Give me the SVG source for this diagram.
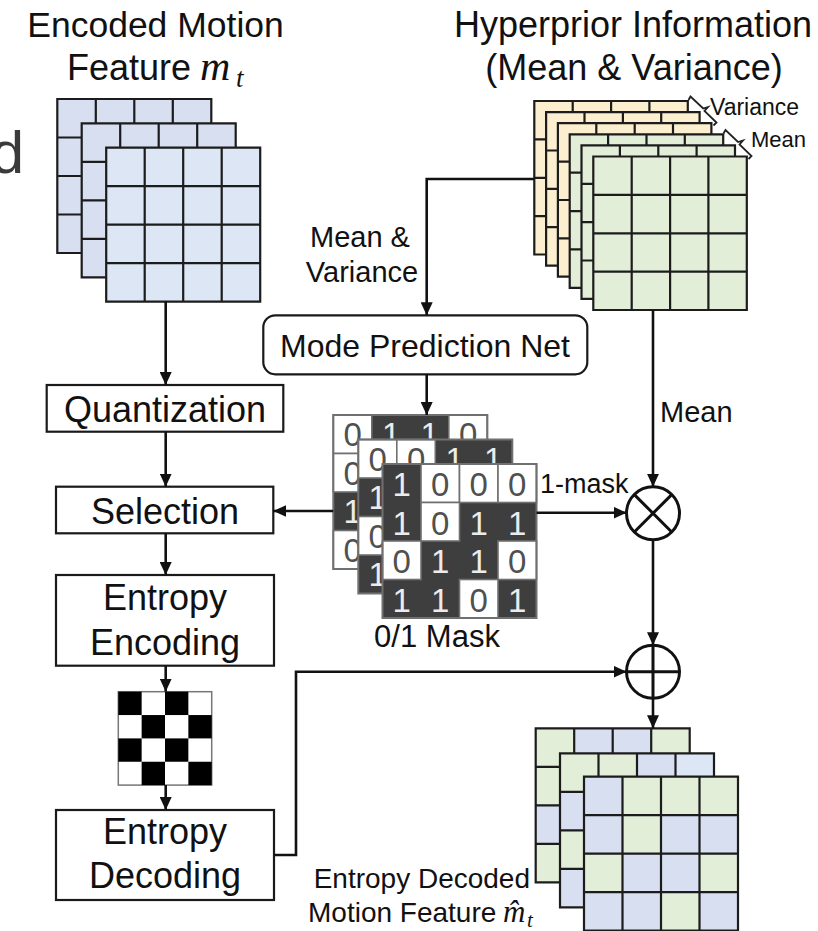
<svg xmlns="http://www.w3.org/2000/svg" width="818" height="931" viewBox="0 0 818 931">
<defs>
<marker id="ah" markerUnits="userSpaceOnUse" markerWidth="13" markerHeight="12" viewBox="0 0 13 12" refX="13" refY="6" orient="auto"><path d="M0,0 L13,6 L0,12 z" fill="#111"/></marker>
<path id="gl" d="M0,0H154V154H0Z M38.5,0V154 M77,0V154 M115.5,0V154 M0,38.5H154 M0,77H154 M0,115.5H154"/>
<path id="glh" d="M0,0H153.5V153.5H0Z M38.4,0V153.5 M76.8,0V153.5 M115.1,0V153.5 M0,38.4H153.5 M0,76.8H153.5 M0,115.1H153.5"/>
</defs>
<style>
.t{font-family:"Liberation Sans",Arial,sans-serif;fill:#111}
.c{text-anchor:middle}
.m{font-family:"Liberation Serif","DejaVu Serif",serif;font-style:italic;fill:#111}
.box{fill:#fff;stroke:#1a1a1a;stroke-width:2.2}
.gl{fill:none;stroke:#1c1c1c;stroke-width:2.2}
.bl{fill:#d7dff1}
.bf{fill:#dce6f4}
.ye{fill:#fcefcf}
.gr{fill:#e2eed8}
.conn path{fill:none;stroke:#111;stroke-width:2.6}
.mk{fill:#3e3e3e}
.mw{fill:#fff;stroke:#707070;stroke-width:1.6}
.mo{fill:none;stroke:#707070;stroke-width:2}
.d0{font-family:"Liberation Sans",Arial,sans-serif;font-size:33px;fill:#505050;text-anchor:middle}
.d1{font-family:"Liberation Sans",Arial,sans-serif;font-size:33px;fill:#ececec;text-anchor:middle}
.op{fill:#fff;stroke:#111;stroke-width:3}
.br{fill:none;stroke:#222;stroke-width:1.8}
</style>
<rect width="818" height="931" fill="#fff"/>

<text class="t" x="24" y="173" font-size="60" text-anchor="end" style="fill:#3a3a3a">d</text>

<!-- Encoded motion feature -->
<g id="motion-feature">
<text class="t c" x="155.5" y="37" font-size="35.5">Encoded Motion</text>
<text class="t" x="67" y="80" font-size="36">Feature</text>
<text class="m" x="200" y="80" font-size="42">m</text>
<text class="m" x="236" y="87" font-size="27">t</text>
<rect class="bl" x="57.3" y="99" width="154" height="154"/><use href="#gl" class="gl" x="57.3" y="99"/>
<rect class="bl" x="81.7" y="123.3" width="154" height="154"/><use href="#gl" class="gl" x="81.7" y="123.3"/>
<rect class="bf" x="106.2" y="147.7" width="154" height="154"/><use href="#gl" class="gl" x="106.2" y="147.7"/>
</g>

<!-- Hyperprior -->
<g id="hyperprior">
<text class="t c" x="633" y="37" font-size="36">Hyperprior Information</text>
<text class="t c" x="634" y="80" font-size="36">(Mean &amp; Variance)</text>
<rect class="ye" x="534.3" y="101" width="153.5" height="153.5"/><use href="#glh" class="gl" x="534.3" y="101"/>
<rect class="ye" x="546.1" y="112.1" width="153.5" height="153.5"/><use href="#glh" class="gl" x="546.1" y="112.1"/>
<rect class="ye" x="557.9" y="123.2" width="153.5" height="153.5"/><use href="#glh" class="gl" x="557.9" y="123.2"/>
<rect class="gr" x="569.7" y="134.3" width="153.5" height="153.5"/><use href="#glh" class="gl" x="569.7" y="134.3"/>
<rect class="gr" x="581.5" y="145.4" width="153.5" height="153.5"/><use href="#glh" class="gl" x="581.5" y="145.4"/>
<rect class="gr" x="593.3" y="156.5" width="153.5" height="153.5"/><use href="#glh" class="gl" x="593.3" y="156.5"/>
<path class="br" d="M688.5,100 L690.5,96.5 L703.2,108.5 L708,107 L704.5,111 L716.5,122.5 L713.5,125.5"/>
<text class="t" x="710" y="115" font-size="23">Variance</text>
<path class="br" d="M723.5,133.5 L725.5,130 L738,142 L743,140.5 L739.5,144.5 L751.5,156 L748.5,159"/>
<text class="t" x="751" y="147" font-size="22">Mean</text>
</g>

<g id="mode-net">
<rect class="box" x="263.3" y="315.3" width="324" height="59" rx="12"/>
<text class="t c" x="425" y="357" font-size="32">Mode Prediction Net</text>
</g>

<g id="quantization">
<rect class="box" x="46.7" y="385" width="236.6" height="46.7"/>
<text class="t c" x="165" y="422" font-size="36">Quantization</text>
</g>

<g id="selection">
<rect class="box" x="56" y="486.7" width="217.3" height="46.6"/>
<text class="t c" x="165" y="524" font-size="36">Selection</text>
</g>

<g id="entropy-encoding">
<rect class="box" x="56" y="575" width="218" height="90.7"/>
<text class="t c" x="165" y="610" font-size="36">Entropy</text>
<text class="t c" x="165" y="655" font-size="36">Encoding</text>
</g>

<g id="bitstream">
<rect x="118.3" y="691.7" width="93.4" height="93.4" fill="#fff" stroke="#777" stroke-width="1.5"/>
<g fill="#000">
<rect x="118.3" y="691.7" width="23.35" height="23.35"/><rect x="165" y="691.7" width="23.35" height="23.35"/>
<rect x="141.65" y="715.05" width="23.35" height="23.35"/><rect x="188.35" y="715.05" width="23.35" height="23.35"/>
<rect x="118.3" y="738.4" width="23.35" height="23.35"/><rect x="165" y="738.4" width="23.35" height="23.35"/>
<rect x="141.65" y="761.75" width="23.35" height="23.35"/><rect x="188.35" y="761.75" width="23.35" height="23.35"/>
</g>
</g>

<g id="entropy-decoding">
<rect class="box" x="56" y="810" width="218" height="90"/>
<text class="t c" x="165" y="844" font-size="36">Entropy</text>
<text class="t c" x="165" y="888" font-size="36">Decoding</text>
</g>

<!-- Mask -->
<g id="mask">
<rect class="mk" x="333.3" y="415" width="154" height="154"/>
<rect class="mw" x="333.3" y="415" width="38.5" height="38.5"/><rect class="mw" x="448.8" y="415" width="38.5" height="38.5"/>
<rect class="mw" x="333.3" y="453.5" width="38.5" height="38.5"/><rect class="mw" x="333.3" y="530.5" width="38.5" height="38.5"/>
<text class="d0" x="352.6" y="446">0</text><text class="d1" x="391.1" y="446">1</text><text class="d1" x="429.6" y="446">1</text><text class="d0" x="468.1" y="446">0</text>
<text class="d0" x="352.6" y="484.5">0</text><text class="d1" x="352.6" y="523">1</text><text class="d0" x="352.6" y="561.5">0</text>
<rect class="mo" x="333.3" y="415" width="154" height="154"/>

<rect class="mk" x="358.3" y="439.5" width="154" height="154"/>
<rect class="mw" x="358.3" y="439.5" width="38.5" height="38.5"/><rect class="mw" x="396.8" y="439.5" width="38.5" height="38.5"/>
<rect class="mw" x="358.3" y="516.5" width="38.5" height="38.5"/>
<text class="d0" x="377.6" y="470.5">0</text><text class="d0" x="416.1" y="470.5">0</text><text class="d1" x="454.6" y="470.5">1</text><text class="d1" x="493.1" y="470.5">1</text>
<text class="d1" x="377.6" y="509">1</text><text class="d0" x="377.6" y="547.5">0</text><text class="d1" x="377.6" y="586">1</text>
<rect class="mo" x="358.3" y="439.5" width="154" height="154"/>

<rect class="mk" x="382.5" y="464" width="154" height="154"/>
<rect class="mw" x="421" y="464" width="38.5" height="38.5"/><rect class="mw" x="459.5" y="464" width="38.5" height="38.5"/><rect class="mw" x="498" y="464" width="38.5" height="38.5"/>
<rect class="mw" x="421" y="502.5" width="38.5" height="38.5"/>
<rect class="mw" x="382.5" y="541" width="38.5" height="38.5"/><rect class="mw" x="498" y="541" width="38.5" height="38.5"/>
<rect class="mw" x="459.5" y="579.5" width="38.5" height="38.5"/>
<text class="d1" x="401.75" y="496">1</text><text class="d0" x="440.25" y="496">0</text><text class="d0" x="478.75" y="496">0</text><text class="d0" x="517.25" y="496">0</text>
<text class="d1" x="401.75" y="534.5">1</text><text class="d0" x="440.25" y="534.5">0</text><text class="d1" x="478.75" y="534.5">1</text><text class="d1" x="517.25" y="534.5">1</text>
<text class="d0" x="401.75" y="573">0</text><text class="d1" x="440.25" y="573">1</text><text class="d1" x="478.75" y="573">1</text><text class="d0" x="517.25" y="573">0</text>
<text class="d1" x="401.75" y="611.5">1</text><text class="d1" x="440.25" y="611.5">1</text><text class="d0" x="478.75" y="611.5">0</text><text class="d1" x="517.25" y="611.5">1</text>
<rect class="mo" x="382.5" y="464" width="154" height="154"/>
<text class="t c" x="437" y="647" font-size="31">0/1 Mask</text>
</g>

<g id="multiply">
<circle class="op" cx="653" cy="513.3" r="26.5"/>
<path d="M634.3,494.6 L671.7,532 M671.7,494.6 L634.3,532" stroke="#111" stroke-width="3"/>
</g>

<g id="add">
<circle class="op" cx="653" cy="671.7" r="26.5"/>
<path d="M626.5,671.7 H679.5 M653,645.2 V698.2" stroke="#111" stroke-width="3"/>
</g>

<!-- Decoded motion feature -->
<g id="decoded-feature">
<rect class="gr" x="535.7" y="728.3" width="154" height="154"/>
<rect class="bl" x="574.2" y="728.3" width="38.5" height="38.5"/><rect class="bl" x="612.7" y="728.3" width="38.5" height="38.5"/><rect class="bl" x="535.7" y="805.3" width="38.5" height="38.5"/>
<use href="#gl" class="gl" x="535.7" y="728.3"/>
<rect class="bl" x="560" y="753.3" width="154" height="154"/>
<rect class="gr" x="560" y="753.3" width="38.5" height="38.5"/><rect class="gr" x="598.5" y="753.3" width="38.5" height="38.5"/><rect class="bf" x="675.5" y="753.3" width="38.5" height="38.5"/><rect class="gr" x="560" y="830.3" width="38.5" height="38.5"/>
<use href="#gl" class="gl" x="560" y="753.3"/>
<rect class="bl" x="584" y="776.7" width="154" height="154"/>
<rect class="gr" x="622.5" y="776.7" width="38.5" height="38.5"/><rect class="gr" x="661" y="776.7" width="38.5" height="38.5"/><rect class="gr" x="699.5" y="776.7" width="38.5" height="38.5"/>
<rect class="gr" x="622.5" y="815.2" width="38.5" height="38.5"/>
<rect class="gr" x="584" y="853.7" width="38.5" height="38.5"/><rect class="gr" x="699.5" y="853.7" width="38.5" height="38.5"/>
<rect class="gr" x="661" y="892.2" width="38.5" height="38.5"/>
<use href="#gl" class="gl" x="584" y="776.7"/>
<text class="t" x="530" y="888" font-size="28" text-anchor="end">Entropy Decoded</text>
<text class="t" x="308" y="921.5" font-size="28">Motion Feature</text>
<text class="m" x="503" y="921.5" font-size="31">m&#770;</text>
<text class="m" x="527" y="927" font-size="21">t</text>
</g>

<g id="connectors" class="conn">
<path d="M165.7,301.7 V385" marker-end="url(#ah)"/>
<path d="M165.7,431.7 V486.7" marker-end="url(#ah)"/>
<path d="M165.7,533.3 V575" marker-end="url(#ah)"/>
<path d="M165.7,665.7 V691.7" marker-end="url(#ah)"/>
<path d="M165.7,785 V810" marker-end="url(#ah)"/>
<path d="M274,855 H296 V671.7 H626.5" marker-end="url(#ah)"/>
<path d="M534.3,179 H426.7 V315.3" marker-end="url(#ah)"/>
<path d="M426.7,374.3 V415" marker-end="url(#ah)"/>
<path d="M333.3,511 H273.3" marker-end="url(#ah)"/>
<path d="M536.5,512.7 H626.5" marker-end="url(#ah)"/>
<path d="M653,310 V486.8" marker-end="url(#ah)"/>
<path d="M653,539.8 V645.2" marker-end="url(#ah)"/>
<path d="M653,698.2 V728.3" marker-end="url(#ah)"/>
</g>
<text class="t c" x="360" y="247" font-size="29">Mean &amp;</text>
<text class="t c" x="362" y="282" font-size="29">Variance</text>
<text class="t" x="660" y="422" font-size="29">Mean</text>
<text class="t" x="540" y="493" font-size="27">1-mask</text>
</svg>
